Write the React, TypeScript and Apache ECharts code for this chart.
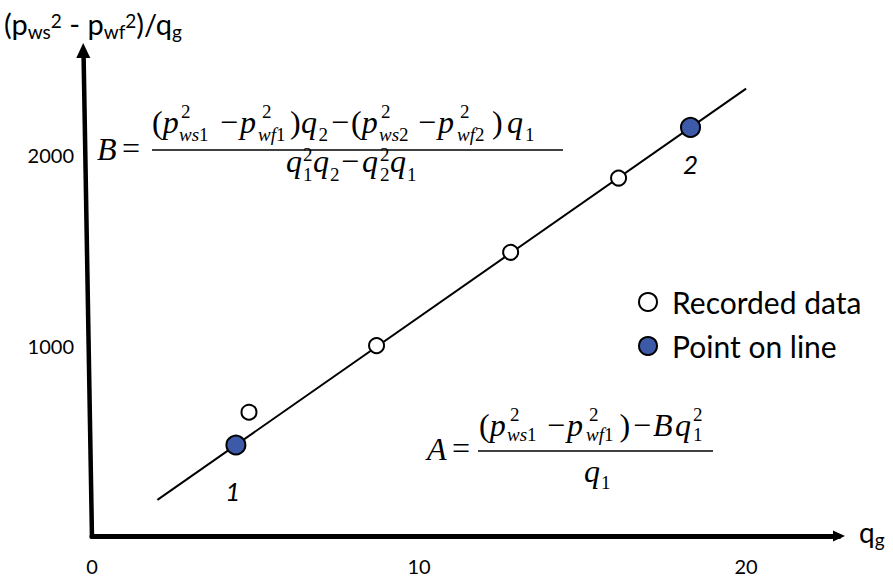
import React, { useEffect, useRef } from 'react';
import * as echarts from 'echarts';

// Tick values printed on the axes
const xTickLabels = [0, 10, 20];
const yTickLabels = [1000, 2000];

// Recorded test data: q_g and (p_ws^2 - p_wf^2)/q_g
const recordedQ = [4.8, 8.7, 12.8, 16.1];
const recordedP = [650, 1000, 1490, 1880];

// Straight line drawn through the data
const fitQ = [2, 20];
const fitP = [190, 2350];

// Two points
const pickedQ = [4.4, 18.3];
const pickedP = [478, 2146];
const pickedTags = ['1', '2'];

const legendNames = ['Recorded data', 'Point on line'];

const SERIF = '"Liberation Serif", "Times New Roman", serif';
const SANS = 'Lato, "Open Sans", sans-serif';
const M = 32; // formula body size
const S = 19; // formula script size

const sty = (size: number, italic: boolean) => ({
  fontSize: size,
  fontFamily: SERIF,
  fontStyle: italic ? 'italic' : 'normal',
  fill: '#000',
});

// a run of glyphs on one baseline; each part is [text, italic]
function run(parts: [string, boolean][], x: number, base: number, size: number) {
  const rich: Record<string, any> = { i: sty(size, true), u: sty(size, false) };
  const text = parts.map(([t, it]) => `{${it ? 'i' : 'u'}|${t}}`).join('');
  return {
    type: 'text',
    x,
    y: base - 0.34 * size,
    silent: true,
    style: { text, align: 'left', verticalAlign: 'middle', rich },
  };
}

const up = (t: string, x: number, base: number, size = M) => run([[t, false]], x, base, size);
const it = (t: string, x: number, base: number, size = M) => run([[t, true]], x, base, size);
// subscript such as "ws1": italic letters then an upright digit
const sub = (letters: string, digit: string, x: number, base: number) =>
  run([[letters, true], [digit, false]], x, base, S);

function bar(x1: number, x2: number, y: number) {
  return { type: 'line', silent: true, shape: { x1, y1: y, x2, y2: y }, style: { stroke: '#000', lineWidth: 1.5 } };
}

const MINUS = '\u2212';

// B = [(p²ws1 − p²wf1) q2 − (p²ws2 − p²wf2) q1] / (q1² q2 − q2² q1)
const formulaB = [
  it('B', 97, 160),
  up('=', 122, 159),
  run([['(', false], ['p', true]], 152, 133, M),
  up('2', 181, 118, S),
  sub('ws', '1', 179, 141),
  up(MINUS, 220, 133),
  it('p', 240, 133),
  up('2', 262, 118, S),
  sub('wf', '1', 258, 141),
  up(')', 290, 133),
  it('q', 301, 133),
  up('2', 318.5, 141, S),
  up(MINUS, 331, 133),
  run([['(', false], ['p', true]], 351, 133, M),
  up('2', 381, 118, S),
  sub('ws', '2', 379, 141),
  up(MINUS, 418, 133),
  it('p', 438, 133),
  up('2', 460, 118, S),
  sub('wf', '2', 457, 141),
  up(')', 492, 133),
  it('q', 507, 133),
  up('1', 525, 141, S),
  bar(152, 563, 150),
  it('q', 286, 172),
  up('2', 303, 161, S),
  up('1', 303, 180.5, S),
  it('q', 313, 172),
  up('2', 330, 180.5, S),
  up(MINUS, 341, 172),
  it('q', 362, 172),
  up('2', 380, 161, S),
  up('2', 380, 180.5, S),
  it('q', 390, 172),
  up('1', 407, 180.5, S),
];

// A = [(p²ws1 − p²wf1) − B q1²] / q1
const formulaA = [
  it('A', 427, 460),
  up('=', 452, 459),
  run([['(', false], ['p', true]], 479, 436, M),
  up('2', 510, 421, S),
  sub('ws', '1', 507, 441),
  up(MINUS, 547, 436),
  it('p', 567, 436),
  up('2', 589, 421, S),
  sub('wf', '1', 586, 441),
  up(')', 619.5, 436),
  up(MINUS, 633, 436),
  it('B', 653, 436),
  it('q', 675, 436),
  up('2', 693, 421, S),
  up('1', 693, 441, S),
  bar(478, 713, 451),
  it('q', 584, 482),
  up('1', 601, 489, S),
];

const tagOffsets = [
  [-3, 46],
  [0, 37],
];

export default function App() {
  const ref = useRef<HTMLDivElement>(null);

  useEffect(() => {
    if (!ref.current) return;
    const chart = echarts.init(ref.current, null, { renderer: 'svg' });

    const richSans = (size: number, pad?: number[]) => ({
      fontSize: size,
      fontFamily: SANS,
      fill: '#000',
      color: '#000',
      ...(pad ? { padding: pad } : {}),
    });

    chart.setOption({
      animation: false,
      backgroundColor: '#fff',
      grid: { left: 92, right: 54, top: 60, bottom: 45, containLabel: false },
      xAxis: {
        type: 'value',
        min: 0,
        max: 22.84,
        interval: 10,
        axisLine: {
          show: true,
          symbol: ['none', 'triangle'],
          symbolSize: [11, 12],
          lineStyle: { color: '#000', width: 5 },
        },
        axisTick: { show: false },
        splitLine: { show: false },
        axisLabel: {
          margin: 20,
          fontFamily: SANS,
          fontSize: 20,
          color: '#000',
          formatter: (v: number) => (xTickLabels.includes(v) ? String(v) : ''),
        },
      },
      yAxis: {
        type: 'value',
        min: 0,
        max: 2500,
        interval: 1000,
        axisLine: { show: false },
        axisTick: { show: false },
        splitLine: { show: false },
        axisLabel: {
          margin: 18,
          fontFamily: SANS,
          fontSize: 20,
          color: '#000',
          formatter: (v: number) => (yTickLabels.includes(v) ? String(v) : ''),
        },
      },
      legend: {
        data: legendNames,
        orient: 'vertical',
        left: 638,
        top: 287,
        padding: 0,
        itemWidth: 22,
        itemHeight: 18,
        itemGap: 14,
        icon: 'circle',
        selectedMode: false,
        textStyle: {
          fontFamily: SANS,
          fontSize: 30,
          color: '#000',
          lineHeight: 30,
          padding: [0, 0, 0, 8],
        },
      },
      series: [
        {
          type: 'line',
          data: fitQ.map((q, i) => [q, fitP[i]]),
          symbol: 'none',
          silent: true,
          lineStyle: { color: '#000', width: 2 },
          z: 1,
        },
        {
          type: 'scatter',
          name: legendNames[0],
          data: recordedQ.map((q, i) => [q, recordedP[i]]),
          symbolSize: 15,
          itemStyle: { color: '#fff', borderColor: '#000', borderWidth: 2, opacity: 1 },
          emphasis: { disabled: true },
          z: 3,
        },
        {
          type: 'scatter',
          name: legendNames[1],
          data: pickedQ.map((q, i) => ({ value: [q, pickedP[i]], label: { offset: tagOffsets[i] } })),
          symbolSize: 19,
          itemStyle: { color: '#3D5AA8', borderColor: '#000', borderWidth: 2, opacity: 1 },
          emphasis: { disabled: true },
          label: {
            show: true,
            position: 'inside',
            formatter: (p: any) => pickedTags[p.dataIndex],
            fontFamily: SANS,
            fontStyle: 'italic',
            fontSize: 26,
            color: '#000',
          },
          z: 3,
        },
      ],
      graphic: [
        // slanted vertical axis with its arrow head
        {
          type: 'line',
          silent: true,
          shape: { x1: 92, y1: 538.5, x2: 83.6, y2: 56 },
          style: { stroke: '#000', lineWidth: 4.5 },
        },
        {
          type: 'polygon',
          silent: true,
          shape: { points: [[83.2, 43], [76.3, 58], [90.3, 58]] },
          style: { fill: '#000' },
        },
        {
          type: 'text',
          x: 4,
          y: 23,
          silent: true,
          style: {
            text: '{m|(p}{b|ws}{t|2}{m| - p}{b|wf}{t|2}{m|)/q}{b|g}',
            verticalAlign: 'middle',
            rich: {
              m: richSans(29),
              b: richSans(19, [16, 0, 0, 0]),
              t: richSans(19, [0, 0, 6, 0]),
            },
          },
        },
        {
          type: 'text',
          x: 859,
          y: 532,
          silent: true,
          style: {
            text: '{m|q}{b|g}',
            verticalAlign: 'middle',
            rich: { m: richSans(28), b: richSans(19, [15, 0, 0, 0]) },
          },
        },
        ...formulaB,
        ...formulaA,
      ],
    });

    return () => chart.dispose();
  }, []);

  return (
    <div
      ref={ref}
      style={{ position: 'fixed', left: 0, top: 0, width: 893, height: 581, background: '#fff' }}
    />
  );
}
